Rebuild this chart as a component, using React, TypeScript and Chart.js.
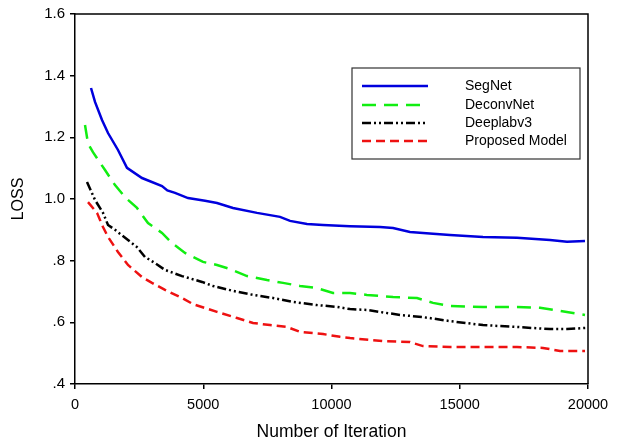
import React, { useEffect, useRef } from "react";
import { Chart, registerables } from "chart.js";

Chart.register(...registerables);

const segNetIter = [624, 780, 1053, 1287, 1676, 2027, 2612, 3392, 3600, 3899, 4406, 5069, 5536, 6160, 7096, 7993, 8383, 9046, 9670, 10722, 11891, 12400, 13060, 13957, 14620, 15906, 17232, 18518, 19181, 19883];
const segNetLoss = [1.36, 1.315, 1.256, 1.214, 1.159, 1.101, 1.068, 1.042, 1.028, 1.02, 1.003, 0.994, 0.987, 0.971, 0.955, 0.942, 0.929, 0.919, 0.916, 0.912, 0.909, 0.906, 0.893, 0.887, 0.883, 0.877, 0.874, 0.867, 0.861, 0.864];

const deconvIter = [390, 507, 700, 1170, 1560, 1950, 2417, 2846, 3392, 3782, 4289, 4990, 5536, 6043, 6706, 7485, 8110, 8772, 9435, 10058, 10722, 11384, 12400, 13332, 13957, 14620, 15906, 17232, 18129, 18908, 19883];
const deconvLoss = [1.24, 1.18, 1.152, 1.094, 1.045, 1.006, 0.971, 0.922, 0.89, 0.857, 0.825, 0.796, 0.786, 0.773, 0.75, 0.737, 0.728, 0.718, 0.711, 0.695, 0.695, 0.689, 0.682, 0.679, 0.663, 0.653, 0.65, 0.65, 0.647, 0.637, 0.624];

const deeplabIter = [468, 780, 1092, 1287, 1560, 2066, 2417, 2729, 3119, 3509, 4172, 4952, 5380, 6160, 6940, 7720, 8500, 9435, 10215, 10722, 11384, 12670, 13567, 14620, 15906, 17232, 18518, 19181, 19961];
const deeplabLoss = [1.055, 0.997, 0.955, 0.916, 0.9, 0.867, 0.844, 0.812, 0.792, 0.77, 0.75, 0.731, 0.718, 0.702, 0.689, 0.679, 0.666, 0.656, 0.65, 0.643, 0.64, 0.624, 0.617, 0.604, 0.591, 0.585, 0.578, 0.578, 0.582];

const proposedIter = [507, 858, 1092, 1287, 1676, 2066, 2612, 3002, 3509, 4172, 4601, 5536, 6316, 6940, 7603, 8266, 8772, 9670, 10332, 10721, 12010, 13060, 13567, 14620, 15906, 17232, 18246, 18908, 19883];
const proposedLoss = [0.99, 0.955, 0.909, 0.877, 0.828, 0.786, 0.747, 0.728, 0.705, 0.679, 0.659, 0.634, 0.614, 0.598, 0.591, 0.585, 0.569, 0.562, 0.553, 0.549, 0.539, 0.536, 0.523, 0.52, 0.52, 0.52, 0.517, 0.507, 0.507];

const seriesNames = ["SegNet", "DeconvNet", "Deeplabv3", "Proposed Model"];
const yTickValues = [0.4, 0.6, 0.8, 1.0, 1.2, 1.4, 1.6];
const yTickLabels = [".4", ".6", ".8", "1.0", "1.2", "1.4", "1.6"];
const xTickValues = [0, 5000, 10000, 15000, 20000];

const FONT = "Arial, 'Liberation Sans', sans-serif";

const toPoints = (xs: number[], ys: number[]) => xs.map((x, i) => ({ x, y: ys[i] }));

const frameAndLegend = {
  id: "frameAndLegend",
  afterDatasetsDraw(chart: any) {
    const { ctx, chartArea } = chart;
    ctx.save();
    ctx.strokeStyle = "#000";
    ctx.lineWidth = 1.5;
    ctx.beginPath();
    ctx.moveTo(chartArea.left, chartArea.top);
    ctx.lineTo(chartArea.right, chartArea.top);
    ctx.lineTo(chartArea.right, chartArea.bottom);
    ctx.stroke();

    // legend box
    const bx = 352, by = 68, bw = 228, bh = 91;
    ctx.fillStyle = "#fff";
    ctx.fillRect(bx, by, bw, bh);
    ctx.lineWidth = 1.2;
    ctx.strokeStyle = "#333";
    ctx.strokeRect(bx, by, bw, bh);
    const rows = [86, 105, 123, 141];
    ctx.font = "14px " + FONT;
    ctx.textBaseline = "middle";
    chart.data.datasets.forEach((ds: any, i: number) => {
      ctx.save();
      ctx.strokeStyle = ds.borderColor;
      ctx.lineWidth = ds.borderWidth;
      ctx.setLineDash(ds.borderDash || []);
      ctx.beginPath();
      ctx.moveTo(362, rows[i]);
      ctx.lineTo(428, rows[i]);
      ctx.stroke();
      ctx.restore();
      ctx.fillStyle = "#000";
      ctx.fillText(ds.label, 465, rows[i]);
    });
    ctx.restore();
  },
};

export default function App() {
  const ref = useRef<HTMLCanvasElement>(null);
  useEffect(() => {
    const chart = new Chart(ref.current!, {
      type: "line",
      data: {
        datasets: [
          { label: seriesNames[0], data: toPoints(segNetIter, segNetLoss), borderColor: "#0000dd", borderWidth: 2.5, borderDash: [] },
          { label: seriesNames[1], data: toPoints(deconvIter, deconvLoss), borderColor: "#11ee11", borderWidth: 2.5, borderDash: [14, 8] },
          { label: seriesNames[2], data: toPoints(deeplabIter, deeplabLoss), borderColor: "#000000", borderWidth: 2.5, borderDash: [9, 3, 2, 3, 2, 3] },
          { label: seriesNames[3], data: toPoints(proposedIter, proposedLoss), borderColor: "#ee1111", borderWidth: 2.5, borderDash: [9, 5] },
        ],
      },
      options: {
        animation: false,
        responsive: false,
        maintainAspectRatio: false,
        elements: { point: { radius: 0 }, line: { tension: 0 } },
        layout: { padding: { top: 14, right: 34, left: 0, bottom: 0 } },
        plugins: { legend: { display: false }, tooltip: { enabled: false } },
        scales: {
          x: {
            type: "linear",
            min: 0,
            max: 20000,
            afterFit: (s: any) => { s.height = 61; },
            afterBuildTicks: (s: any) => { s.ticks = xTickValues.map((v) => ({ value: v })); },
            ticks: { color: "#000", font: { size: 14.5, family: FONT }, padding: 7, maxRotation: 0, callback: (v: any) => String(v) },
            grid: { drawOnChartArea: false, drawTicks: true, tickLength: 5, color: "#000", lineWidth: 1.5 },
            border: { display: true, color: "#000", width: 1.5 },
            title: { display: true, text: "Number of Iteration", color: "#000", font: { size: 17.5, family: FONT }, padding: { top: 0, bottom: 2 } },
          },
          y: {
            type: "linear",
            min: 0.4,
            max: 1.6,
            afterFit: (s: any) => { s.width = 75; },
            afterBuildTicks: (s: any) => { s.ticks = yTickValues.map((v) => ({ value: v })); },
            ticks: {
              color: "#000",
              font: { size: 15, family: FONT },
              padding: 5,
              callback: (v: any) => {
                const idx = yTickValues.findIndex((t) => Math.abs(t - v) < 1e-6);
                return idx >= 0 ? yTickLabels[idx] : "";
              },
            },
            grid: { drawOnChartArea: false, drawTicks: true, tickLength: 5, color: "#000", lineWidth: 1.5 },
            border: { display: true, color: "#000", width: 1.5 },
            title: { display: true, text: "LOSS", color: "#000", font: { size: 16, family: FONT }, padding: { top: 9, bottom: 0 } },
          },
        },
      },
      plugins: [frameAndLegend],
    });
    return () => chart.destroy();
  }, []);
  return (
    <div style={{ position: "fixed", left: 0, top: 0, width: 622, height: 445, background: "#fff" }}>
      <canvas ref={ref} width={622} height={445} style={{ width: 622, height: 445 }} />
    </div>
  );
}
